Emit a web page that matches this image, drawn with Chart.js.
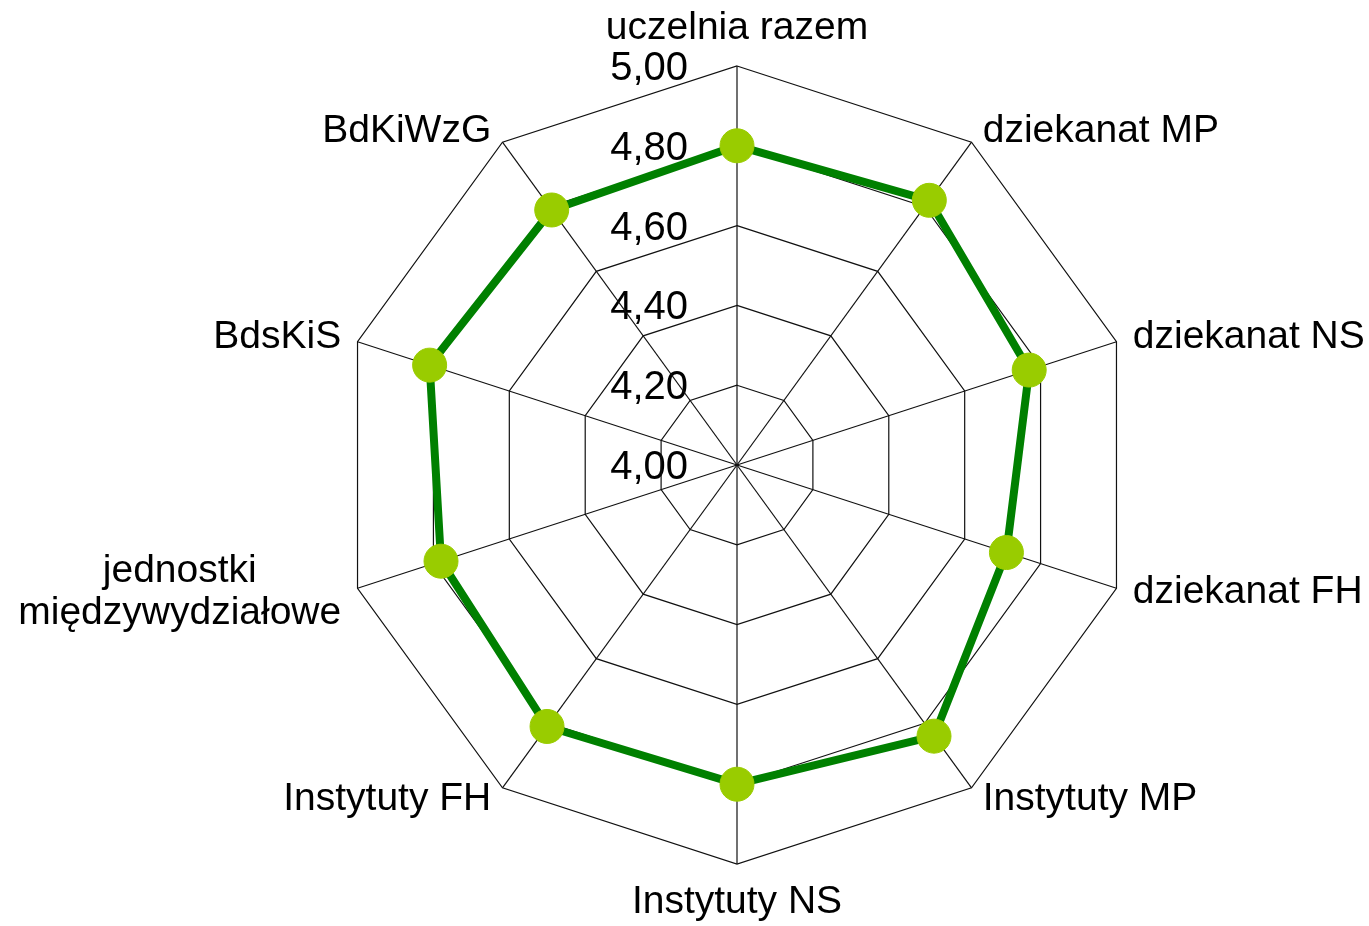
<!DOCTYPE html>
<html>
<head>
<meta charset="utf-8">
<script src="https://cdn.jsdelivr.net/npm/chart.js@4/dist/chart.umd.min.js"></script>
<style>
  html, body { margin: 0; padding: 0; background: #fff; }
  canvas { display: block; }
</style>
</head>
<body>
<canvas id="radarChart" width="1369" height="926"></canvas>
<script>
// category labels (one array entry per line of text)
const categories = [
    ['uczelnia razem'],
    ['dziekanat MP'],
    ['dziekanat NS'],
    ['dziekanat FH'],
    ['Instytuty MP'],
    ['Instytuty NS'],
    ['Instytuty FH'],
    ['jednostki', 'międzywydziałowe'],
    ['BdsKiS'],
    ['BdKiWzG']
];

// mean scores
const scores = [4.80, 4.82, 4.77, 4.71, 4.84, 4.80, 4.81, 4.78, 4.81, 4.79];

// radial axis ticks
const tickValues = [4.00, 4.20, 4.40, 4.60, 4.80, 5.00];

const labelFont = '39px "Liberation Sans", Arial, sans-serif';
const tickFont = '40px "Liberation Sans", Arial, sans-serif';

// tick labels sit left of the vertical axis, grid is drawn over them
const tickLabelsPlugin = {
    id: 'tickLabels',
    beforeDraw(chart) {
        const scale = chart.scales.r;
        const ctx = chart.ctx;
        ctx.save();
        ctx.font = tickFont;
        ctx.fillStyle = '#000';
        ctx.textAlign = 'right';
        ctx.textBaseline = 'middle';
        tickValues.forEach(v => {
            const y = scale.yCenter - scale.getDistanceFromCenterForValue(v);
            ctx.fillText(v.toFixed(2).replace('.', ','), scale.xCenter - 49, y + 3);
        });
        ctx.restore();
    }
};

// category labels placed around the outer decagon
const pointLabelsPlugin = {
    id: 'catLabels',
    afterDraw(chart) {
        const scale = chart.scales.r;
        const ctx = chart.ctx;
        const r = scale.drawingArea;
        const lineGap = 42;
        ctx.save();
        ctx.font = labelFont;
        ctx.fillStyle = '#000';
        ctx.textBaseline = 'middle';
        categories.forEach((lines, i) => {
            const angle = scale.getIndexAngle(i);
            const s = Math.sin(angle);
            let x, y;
            if (Math.abs(s) < 0.01) {
                const p = scale.getPointPosition(i, r + 38);
                ctx.textAlign = 'center';
                x = p.x;
                y = p.y;
            } else {
                const p = scale.getPointPosition(i, r + 14);
                const widest = Math.max(...lines.map(t => ctx.measureText(t).width));
                ctx.textAlign = 'center';
                x = s > 0 ? p.x + 3 + widest / 2 : p.x - 3 - widest / 2;
                y = p.y;
            }
            const top = y - (lines.length - 1) * lineGap / 2;
            lines.forEach((t, k) => ctx.fillText(t, x, top + k * lineGap));
        });
        ctx.restore();
    }
};

new Chart(document.getElementById('radarChart'), {
    type: 'radar',
    data: {
        labels: categories,
        datasets: [{
            label: 'ocena',
            data: scores,
            borderColor: '#008000',
            borderWidth: 8,
            fill: false,
            tension: 0,
            pointRadius: 17,
            pointHoverRadius: 17,
            pointBackgroundColor: '#99cc00',
            pointBorderColor: '#99cc00',
            pointBorderWidth: 1
        }]
    },
    options: {
        responsive: false,
        animation: false,
        devicePixelRatio: 1,
        layout: {
            padding: { left: 338, right: 233, top: 66, bottom: 62 }
        },
        plugins: {
            legend: { display: false },
            tooltip: { enabled: false }
        },
        scales: {
            r: {
                min: 4,
                max: 5,
                beginAtZero: false,
                ticks: { stepSize: 0.2, display: false },
                grid: { circular: false, color: '#111', lineWidth: 1.2 },
                angleLines: { color: '#111', lineWidth: 1.2 },
                pointLabels: { display: false }
            }
        }
    },
    plugins: [tickLabelsPlugin, pointLabelsPlugin]
});
</script>
</body>
</html>
